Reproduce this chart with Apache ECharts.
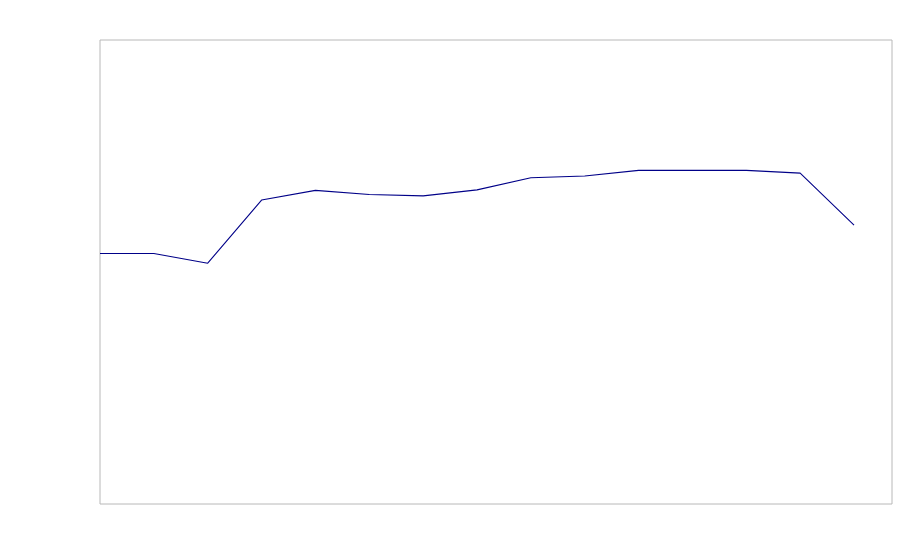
<!DOCTYPE html>
<html>
<head>
<meta charset="utf-8">
<script src="https://cdn.jsdelivr.net/npm/echarts@6/dist/echarts.min.js"></script>
<style>html,body{margin:0;padding:0;background:#fff}#c{width:900px;height:560px}</style>
</head>
<body>
<div id="c"></div>
<script>
// Data (y on a 0-100 scale, x as positions 0..14)
var xValues = [0, 1, 2, 3, 4, 5, 6, 7, 8, 9, 10, 11, 12, 13, 14];
var yValues = [54.0, 54.0, 51.9, 65.5, 67.6, 66.7, 66.4, 67.7, 70.3, 70.7, 71.9, 71.9, 71.9, 71.3, 60.1];

var chart = echarts.init(document.getElementById('c'), null, {renderer: 'canvas'});
chart.setOption({
  animation: false,
  backgroundColor: '#ffffff',
  grid: {left: 100, top: 40, width: 792, height: 464, show: true, borderColor: '#b8b8b8', borderWidth: 1, backgroundColor: 'transparent'},
  xAxis: {type: 'value', min: 0, max: 14.705, show: false},
  yAxis: {type: 'value', min: 0, max: 100, show: false},
  series: [{
    type: 'line',
    data: xValues.map(function (x, i) { return [x, yValues[i]]; }),
    showSymbol: false,
    lineStyle: {color: '#000088', width: 1.1},
    itemStyle: {color: '#000088'}
  }]
});
</script>
</body>
</html>
